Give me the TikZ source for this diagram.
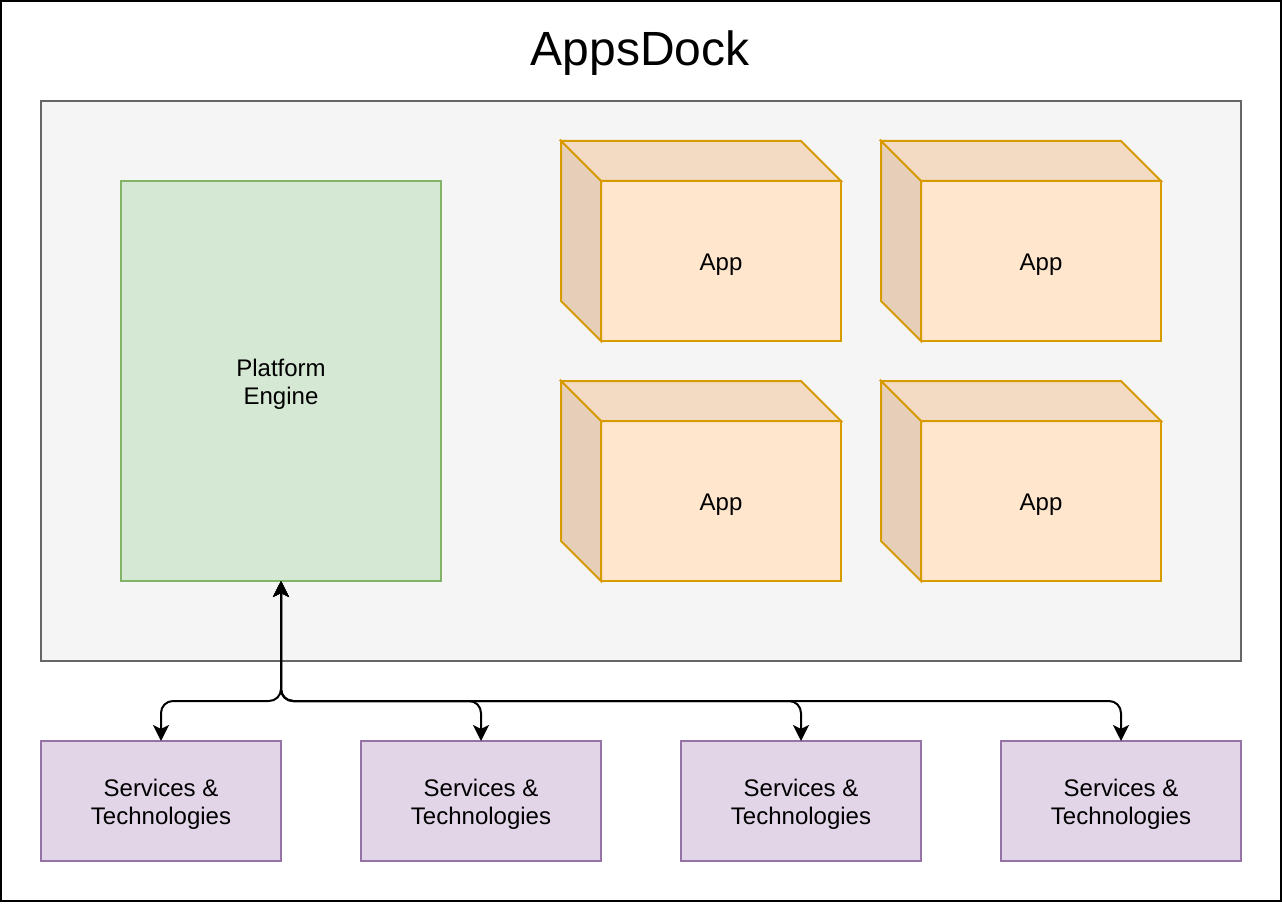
\documentclass[tikz,border=0pt]{standalone}
\usepackage{fontspec}
\setmainfont{Liberation Sans}
\usetikzlibrary{arrows.meta, positioning}

\definecolor{boxgray}{HTML}{F5F5F5}
\definecolor{linegray}{HTML}{666666}
\definecolor{pfill}{HTML}{D5E8D4}
\definecolor{pline}{HTML}{82B366}
\definecolor{afill}{HTML}{FFE6CC}
\definecolor{atop}{HTML}{F2DBC2}
\definecolor{aside}{HTML}{E6CFB8}
\definecolor{aline}{HTML}{D79B00}
\definecolor{sfill}{HTML}{E1D5E7}
\definecolor{sline}{HTML}{9673A6}

\begin{document}
\begin{tikzpicture}[x=1pt,y=-1pt,line width=2pt,
  every node/.style={inner sep=0pt,outer sep=0pt,align=center,font=\fontsize{24}{28}\selectfont},
  platform node/.style={draw=pline,fill=pfill,minimum width=320pt,minimum height=400pt},
  app node/.style={draw=aline,fill=afill,minimum width=240pt,minimum height=160pt},
  service node/.style={draw=sline,fill=sfill,minimum width=240pt,minimum height=120pt},
  link/.style={{Stealth[length=16pt,width=16pt,inset=4pt]}-{Stealth[length=16pt,width=16pt,inset=4pt]},
    black,rounded corners=12pt}]
  \useasboundingbox (0,0) rectangle (1282,904);
  \draw[black] (1,1) rectangle (1281,901);
  \node[anchor=base,font=\fontsize{48}{56}\selectfont] (title) at (640,66) {AppsDock};
  \draw[linegray,fill=boxgray] (41,101) rectangle (1241,661);

  % engine
  \node[platform node] (pe) at (281,381) {};
  \node (pe text) at ([yshift=-3.5pt]pe) {Platform\\Engine};

  % apps (front faces)
  \node[app node] (a1) at (721,261) {};
  \node[app node] (a2) [right=80pt of a1] {};
  \node[app node] (a3) [below=80pt of a1] {};
  \node[app node] (a4) [right=80pt of a3] {};
  \foreach \a in {a1,a2,a3,a4} {
    \filldraw[draw=aline,fill=atop] (\a.north west) -- ++(-40,-40)
      -- ([shift={(-40,-40)}]\a.north east) -- (\a.north east) -- cycle;
    \filldraw[draw=aline,fill=aside] (\a.north west) -- ++(-40,-40)
      -- ([shift={(-40,-40)}]\a.south west) -- (\a.south west) -- cycle;
    \node (\a text) at ([yshift=-3.5pt]\a) {App};
  }

  % services
  \node[service node] (s1) at (161,801) {};
  \node[service node] (s2) [right=80pt of s1] {};
  \node[service node] (s3) [right=80pt of s2] {};
  \node[service node] (s4) [right=80pt of s3] {};
  \foreach \s in {s1,s2,s3,s4}
    \node (\s text) at ([yshift=-3.5pt]\s) {Services \&\\Technologies};

  \coordinate (j) at (281,701);
  \foreach \s in {s1,s2,s3,s4}
    \draw[link] (pe.south) -- (j) -| (\s.north);
\end{tikzpicture}
\end{document}
